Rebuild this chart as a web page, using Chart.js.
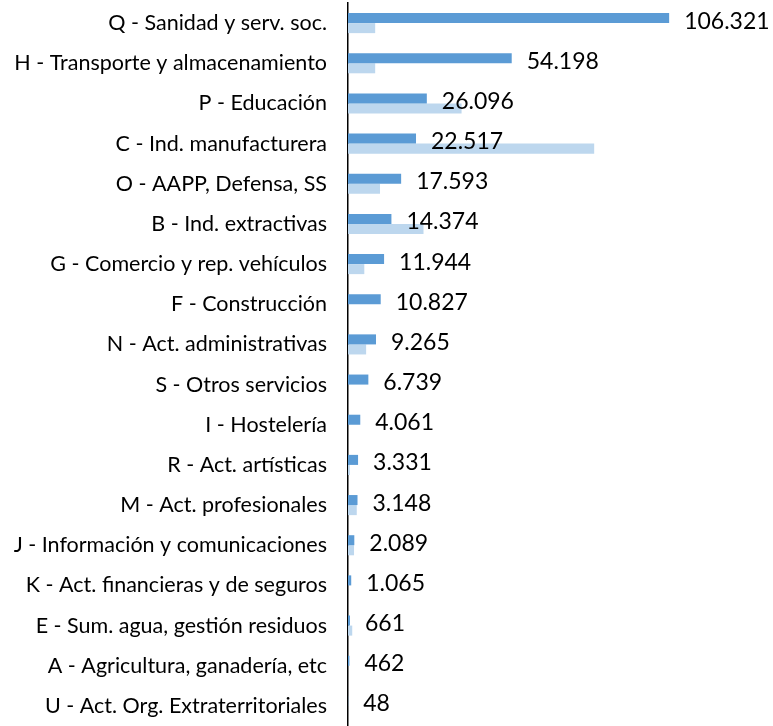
<!DOCTYPE html>
<html>
<head>
<meta charset="utf-8">
<script src="https://cdn.jsdelivr.net/npm/chart.js@4"></script>
<style>
  html, body { margin: 0; padding: 0; background: #fff; }
  #wrap { width: 773px; height: 726px; }
</style>
</head>
<body>
<div id="wrap"><canvas id="barChart"></canvas></div>
<script>
const categories = [
  'Q - Sanidad y serv. soc.',
  'H - Transporte y almacenamiento',
  'P - Educación',
  'C - Ind. manufacturera',
  'O - AAPP, Defensa, SS',
  'B - Ind. extractivas',
  'G - Comercio y rep. vehículos',
  'F - Construcción',
  'N - Act. administrativas',
  'S - Otros servicios',
  'I - Hostelería',
  'R - Act. artísticas',
  'M - Act. profesionales',
  'J - Información y comunicaciones',
  'K - Act. financieras y de seguros',
  'E - Sum. agua, gestión residuos',
  'A - Agricultura, ganadería, etc',
  'U - Act. Org. Extraterritoriales'
];
const mainValues = [106321, 54198, 26096, 22517, 17593, 14374, 11944, 10827, 9265, 6739, 4061, 3331, 3148, 2089, 1065, 661, 462, 48];
const secondValues = [9000, 9000, 37600, 81500, 10600, 25000, 5400, 0, 6000, 0, 0, 600, 2900, 2000, 0, 1400, 0, 0];

// numbers with a dot as thousands separator
function fmt(v) {
  return String(v).replace(/\B(?=(\d{3})+(?!\d))/g, '.');
}

const valueLabels = {
  id: 'valueLabels',
  afterDatasetsDraw(chart) {
    const ctx = chart.ctx;
    const meta = chart.getDatasetMeta(0);
    const yScale = chart.scales.y;
    ctx.save();
    ctx.font = '23px Lato';
    ctx.fillStyle = '#000';
    ctx.textBaseline = 'middle';
    ctx.textAlign = 'left';
    meta.data.forEach((bar, i) => {
      const y = yScale.getPixelForValue(i) - 2;
      ctx.fillText(fmt(mainValues[i]), bar.x + 15, y);
    });
    ctx.restore();
  }
};

const ctx = document.getElementById('barChart').getContext('2d');
new Chart(ctx, {
  type: 'bar',
  data: {
    labels: categories,
    datasets: [{
      data: mainValues,
      backgroundColor: '#5b9bd5',
      barPercentage: 1.0,
      categoryPercentage: 0.5
    }, {
      data: secondValues,
      backgroundColor: '#bdd7ee',
      barPercentage: 1.0,
      categoryPercentage: 0.5
    }]
  },
  options: {
    indexAxis: 'y',
    responsive: true,
    maintainAspectRatio: false,
    animation: false,
    layout: { padding: { top: 3, right: 0, bottom: 0, left: 0 } },
    scales: {
      x: {
        display: false,
        min: 0,
        max: 140700
      },
      y: {
        grid: { display: false, drawTicks: false },
        border: { display: true, color: '#000', width: 1.5 },
        ticks: {
          color: '#000',
          padding: 21,
          font: { family: 'Lato', size: 21.5 }
        },
        afterFit(scale) {
          scale.width = 348;
          scale.paddingTop = 0;
          scale.paddingBottom = 0;
        }
      }
    },
    plugins: {
      legend: { display: false },
      tooltip: { enabled: false }
    }
  },
  plugins: [valueLabels]
});
</script>
</body>
</html>
